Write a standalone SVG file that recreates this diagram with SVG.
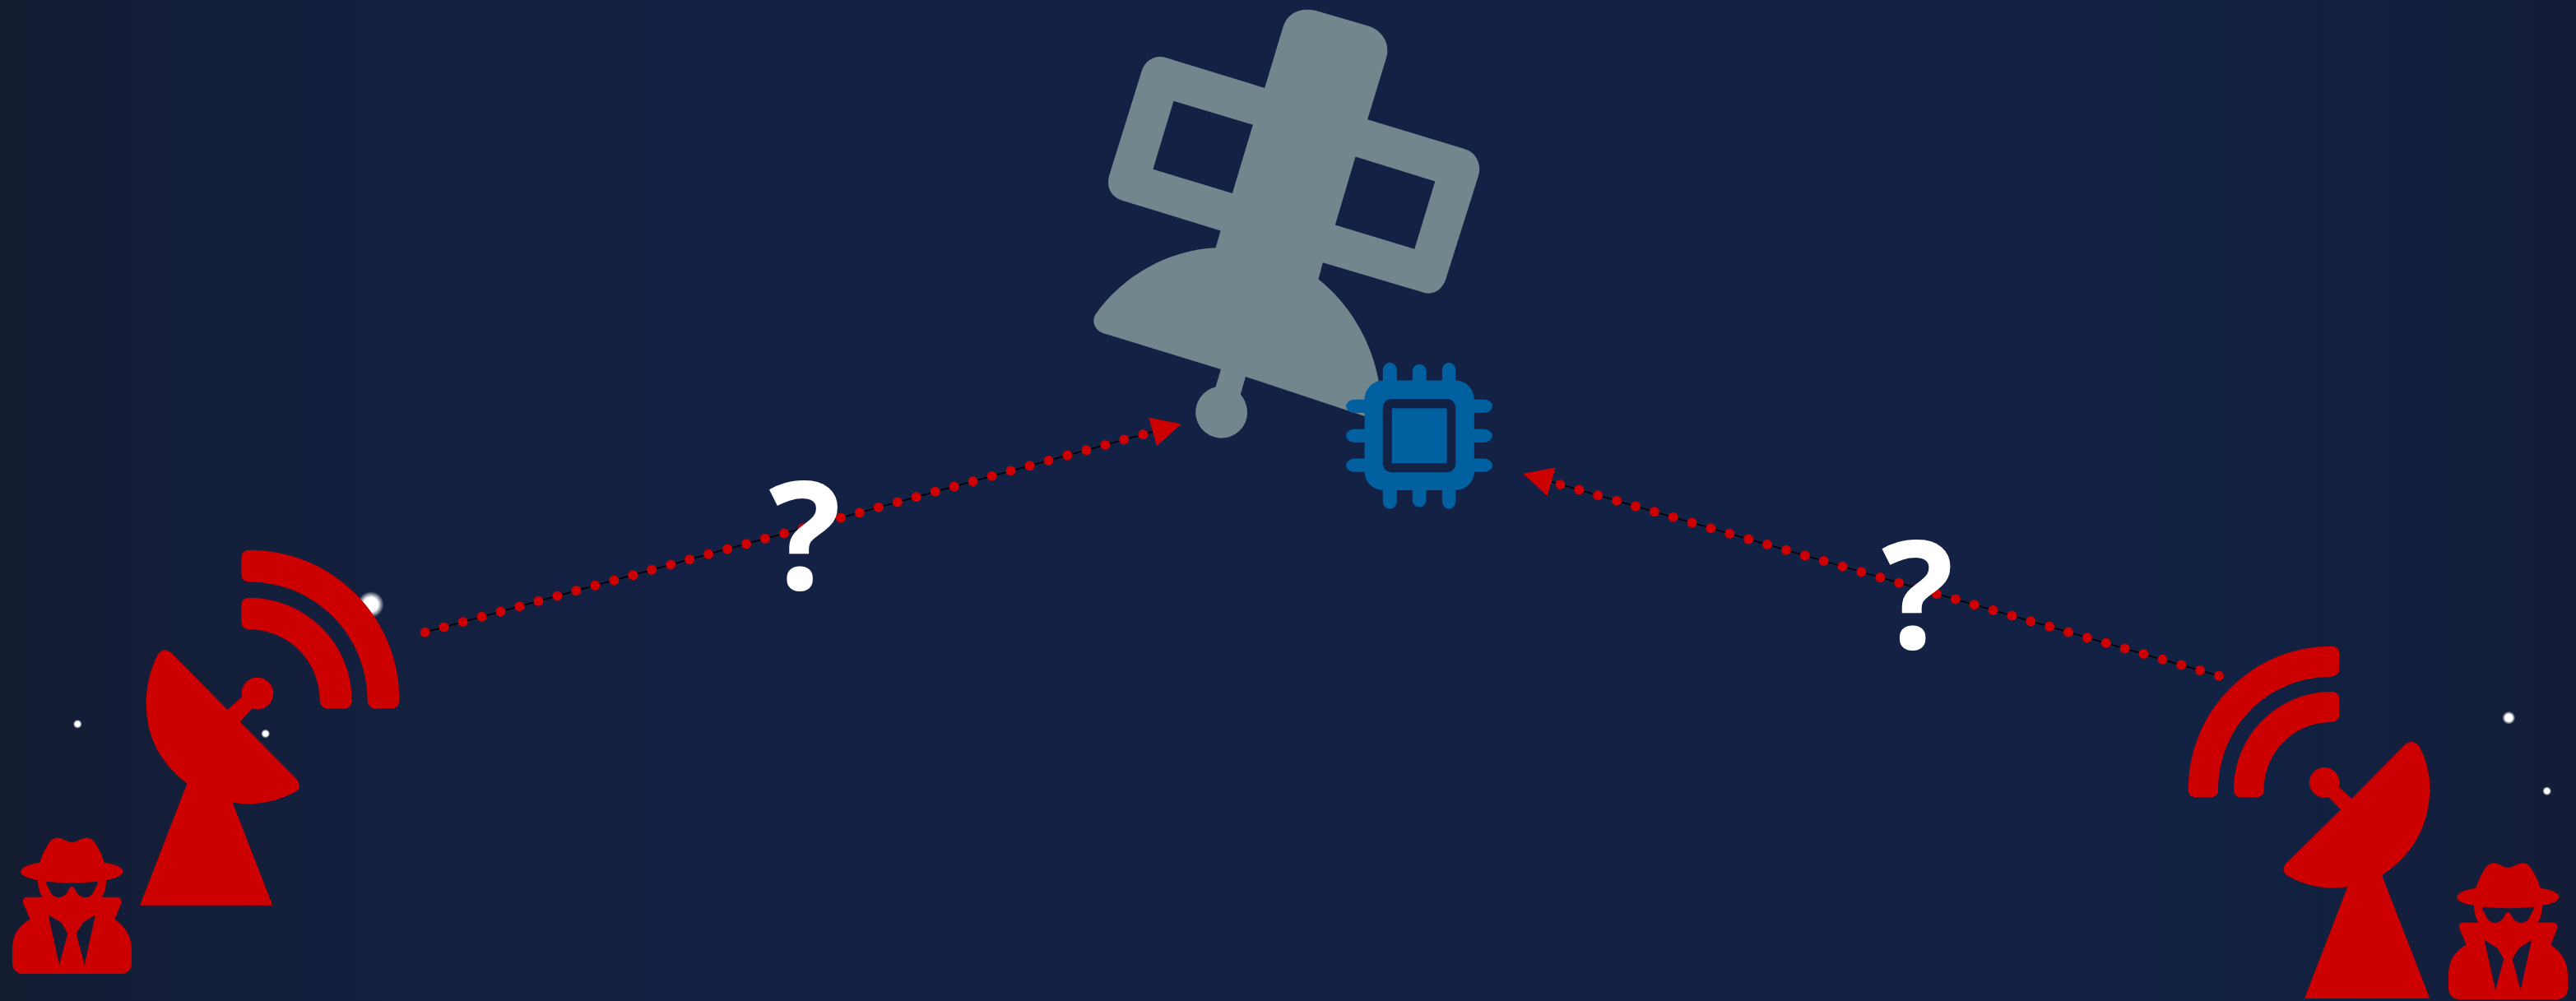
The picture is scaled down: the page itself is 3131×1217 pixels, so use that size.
<svg xmlns="http://www.w3.org/2000/svg" xmlns:xlink="http://www.w3.org/1999/xlink" width="3131" height="1217" viewBox="0 0 3131 1217">
<style>
.red{fill:#cc0000}
.sat{fill:#72868e;fill-rule:evenodd}
.chip{fill:#0060a0}
.base{stroke:#000;stroke-width:1.6;fill:none;marker-end:url(#arrow)}
.dots{stroke:#cc0000;stroke-width:12;stroke-linecap:round;stroke-dasharray:0 23.82;fill:none}
.q{font-family:"Open Sans","Noto Sans",sans-serif;font-weight:700;font-size:184px;fill:#fff;text-anchor:middle}
</style>
<defs>
<linearGradient id="bg" x1="0" y1="0" x2="1" y2="0">
<stop offset="0" stop-color="#141c30"/>
<stop offset="0.03" stop-color="#131d36"/>
<stop offset="0.16" stop-color="#13203f"/>
<stop offset="0.3" stop-color="#132145"/>
<stop offset="0.7" stop-color="#132145"/>
<stop offset="0.86" stop-color="#122243"/>
<stop offset="0.94" stop-color="#131f3d"/>
<stop offset="1" stop-color="#131d37"/>
</linearGradient>
<radialGradient id="star">
<stop offset="0" stop-color="#fff"/>
<stop offset="0.55" stop-color="#fff"/>
<stop offset="1" stop-color="#fff" stop-opacity="0"/>
</radialGradient>
<marker id="arrow" markerUnits="userSpaceOnUse" viewBox="0 0 36 36" markerWidth="36" markerHeight="36" refX="0" refY="18" orient="auto">
<path d="M0 0L36 18L0 36Z" fill="#cc0000"/>
</marker>
<path id="man" fill-rule="evenodd" d="M145 1110C160 1070 175 1050 185 1038Q205 1020 235 1035Q262 1052 290 1035Q320 1020 340 1038C355 1055 370 1080 380 1110Q449 1122 449 1140Q445 1160 387 1168C387 1195 382 1210 370 1225L430 1225Q445 1228 442 1245L418 1298Q478 1335 480 1395L480 1445Q478 1475 445 1478L80 1478Q48 1475 45 1445L45 1395Q45 1330 110 1298L85 1245Q80 1228 95 1225L155 1225C145 1210 138 1190 138 1168Q76 1160 76 1140Q76 1122 145 1110ZM168 1173Q262 1182 357 1173L355 1185Q350 1187 345 1200Q335 1225 310 1226Q285 1225 272 1197Q262 1182 252 1197Q240 1225 215 1226Q190 1225 180 1200Q176 1187 170 1185ZM176 1283L224 1309L247 1345L216 1448ZM348 1283L302 1309L278 1345L308 1448Z"/>
</defs>
<rect id="background" width="3131" height="1217" fill="url(#bg)"/>
<g id="stars">
<circle cx="450.7" cy="735" r="16" fill="url(#star)"/>
<circle cx="94.3" cy="880.3" r="5.5" fill="url(#star)"/>
<circle cx="322.7" cy="892" r="5.5" fill="url(#star)"/>
<circle cx="3049.3" cy="872.7" r="8" fill="url(#star)"/>
<circle cx="3095.7" cy="961.7" r="5.5" fill="url(#star)"/>
</g>
<g id="satellite" transform="translate(1280 0) scale(0.35714 0.40816)">
<path class="sat" d="M782 82C795 40 840 20 895 32L1075 78C1120 92 1150 130 1133 175L1070 356L1405 445C1440 455 1460 490 1447 525L1337 830C1325 865 1290 882 1255 870L918 782L903 832C1010 905 1085 1020 1108 1135L1060 1240L655 1122L638 1175C652 1190 661 1208 661 1230A88 77 0 1 1 553 1153L571 1100L170 992C145 985 128 960 145 935C240 820 390 745 553 738L570 687L235 597C200 587 178 560 192 520L302 210C315 180 345 162 385 172L720 262ZM410 301L680 372L610 576L340 504ZM1029 467L1300 540L1230 742L960 670Z"/>
</g>
<g id="chip" transform="translate(1280 0) scale(0.35714 0.40816)">
<path class="chip" fill-rule="evenodd" d="M1122 1103A24 23 0 0 1 1170 1103L1170 1133L1223 1133L1223 1103A24 23 0 0 1 1270 1103L1270 1133L1324 1133L1324 1103A23 23 0 0 1 1370 1103L1370 1133C1405 1133 1433 1160 1433 1190L1465 1190A30 20 0 0 1 1465 1230L1433 1230L1433 1278L1465 1278A30 20 0 0 1 1465 1318L1433 1318L1433 1366L1465 1366A30 20 0 0 1 1465 1406L1433 1406C1433 1435 1405 1460 1370 1460L1370 1493A23 23 0 0 1 1324 1493L1324 1460L1270 1460L1270 1493A24 23 0 0 1 1223 1493L1223 1460L1170 1460L1170 1493A24 23 0 0 1 1122 1493L1122 1460C1088 1460 1060 1435 1060 1406L1027 1406A30 20 0 0 1 1027 1366L1060 1366L1060 1318L1027 1318A30 20 0 0 1 1027 1278L1060 1278L1060 1230L1027 1230A30 20 0 0 1 1027 1190L1060 1190C1060 1160 1088 1133 1122 1133ZM1152 1188C1135 1188 1122 1200 1122 1216L1122 1380C1122 1395 1135 1407 1152 1407L1340 1407C1357 1407 1370 1395 1370 1380L1370 1216C1370 1200 1357 1188 1340 1188Z"/>
<rect class="chip" x="1153" y="1216" width="187" height="164"/>
</g>
<g id="dish-left" class="red" transform="translate(0 640) scale(0.33333 0.36805)">
<path d="M578 420Q600 398 625 418L830 606L882 563A58 53 0 1 1 920 602L875 645L1082 835Q1102 860 1080 875Q970 930 848 912L994 1252L510 1252L682 850Q530 745 533 580Q535 490 578 420Z"/>
<path d="M880 105Q880 78 910 78A546 492 0 0 1 1456 572Q1456 602 1425 602L1372 602Q1342 602 1340 575A430 392 0 0 0 910 183Q880 183 880 155Z"/>
<path d="M880 262Q880 235 910 236A373 338 0 0 1 1283 572Q1283 602 1253 602L1198 602Q1168 602 1166 575A258 235 0 0 0 905 340Q880 338 880 312Z"/>
</g>
<g id="dish-right" class="red" transform="translate(2630 760) scale(0.33333)">
<path d="M880 435Q905 415 930 440Q972 515 970 600Q965 800 795 912L970 1362L513 1362L670 955Q550 970 452 915Q425 895 445 870L645 673L600 627A55 55 0 1 1 638 590L685 633Z"/>
<path d="M610 77Q640 77 640 105L640 160Q640 185 610 188A410 410 0 0 0 198 600Q198 628 170 628L118 628Q90 628 89 600A522 522 0 0 1 610 77Z"/>
<path d="M610 243Q640 243 640 270L640 325Q640 352 610 354A245 245 0 0 0 365 600Q365 628 335 628L283 628Q255 628 255 600A356 356 0 0 1 610 243Z"/>
</g>
<g id="spy-left" class="red" transform="translate(0 640) scale(0.33333 0.36805)"><use href="#man"/></g>
<g id="spy-right" class="red" transform="translate(2961 670.9) scale(0.33333 0.36805)"><use href="#man"/></g>
<g id="connectors">
<path class="base" d="M516.7 768.8L1401 525"/>
<path class="dots" d="M516.7 768.8L1401 525"/>
<path class="base" d="M2697 821.7L1885.7 585.8"/>
<path class="dots" d="M2697 821.7L1885.7 585.8"/>
</g>
<g id="labels">
<text class="q" x="978.5" y="717">?</text>
<text class="q" x="2331" y="789">?</text>
</g>
</svg>
